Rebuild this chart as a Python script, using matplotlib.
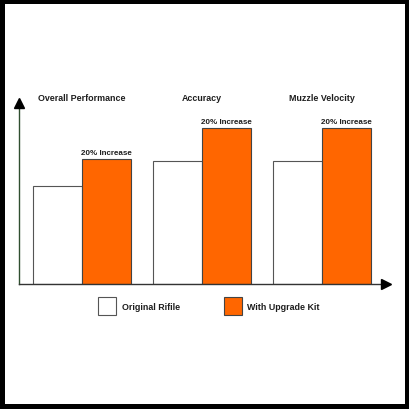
import numpy as np
import matplotlib
matplotlib.use("Agg")
from matplotlib import pyplot as plt
from matplotlib.patches import Rectangle, Patch

categories = ["Overall Performance", "Accuracy", "Muzzle Velocity"]
original = [98, 123, 123]
upgraded = [125, 156, 156]
increase_labels = ["20% Increase", "20% Increase", "20% Increase"]
legend_labels = ["Original Rifile", "With Upgrade Kit"]

plt.rcParams["font.family"] = ["Liberation Sans", "DejaVu Sans"]
plt.rcParams["font.weight"] = "bold"

W = 410.0
fig = plt.figure(figsize=(4.1, 4.1), dpi=100, facecolor="black")
fig.patches.append(Rectangle((5 / W, 5 / W), 400 / W, 400 / W, transform=fig.transFigure,
                             facecolor="white", edgecolor="none", zorder=-5))

# plot area in pixels: x 19..392, y (from top) 98..285
ax = fig.add_axes([19 / W, (W - 285) / W, (392 - 19) / W, (285 - 98) / W])
ax.set_facecolor("none")
ax.set_zorder(2)

x = np.arange(len(categories))
width = 0.408
ax.bar(x - width / 2, original, width, color="white", edgecolor="#555555", linewidth=0.8)
bars = ax.bar(x + width / 2, upgraded, width, color="#ff6600", edgecolor="#444444", linewidth=0.8)

ax.set_xlim(-0.525, 2.583)
ax.set_ylim(0, 187)

for s in ax.spines.values():
    s.set_visible(False)
ax.set_xticks([])
ax.set_yticks([])

# axes with arrows
ax.plot([0, 0], [0, 0.96], transform=ax.transAxes, color="#2f4f2f", lw=1.0, clip_on=False)
ax.plot([0, 0.985], [0, 0], transform=ax.transAxes, color="#333333", lw=1.0, clip_on=False)
ax.plot(0, 0.97, marker="^", color="black", markersize=7, transform=ax.transAxes, clip_on=False)
ax.plot(0.985, 0, marker=">", color="black", markersize=7, transform=ax.transAxes, clip_on=False)

# group titles
trans = ax.get_xaxis_transform()
for i, name in enumerate(categories):
    ax.text(x[i], 0.995, name, transform=trans, ha="center", va="center",
            fontsize=6.4, fontweight="bold", color="#1e1e1e")

for b, lab in zip(bars, increase_labels):
    ax.annotate(lab, (b.get_x() + b.get_width() / 2, b.get_height()),
                xytext=(0, 2.5), textcoords="offset points", ha="center", va="bottom",
                fontsize=5.8, fontweight="bold", color="#1e1e1e")

handles = [Patch(facecolor="white", edgecolor="#555555", linewidth=0.8),
           Patch(facecolor="#ff6600", edgecolor="#444444", linewidth=0.8)]
leg = fig.legend(handles, legend_labels, ncol=2, frameon=False, loc="center left",
                 bbox_to_anchor=(98 / W, (W - 307) / W), borderpad=0, borderaxespad=0,
                 handlelength=2.05, handleheight=2.8, handletextpad=0.6, columnspacing=4.95,
                 prop={"size": 6.4, "weight": "bold"})
for t in leg.get_texts():
    t.set_color("#1e1e1e")

fig.savefig("out.png", dpi=100, facecolor="black")
